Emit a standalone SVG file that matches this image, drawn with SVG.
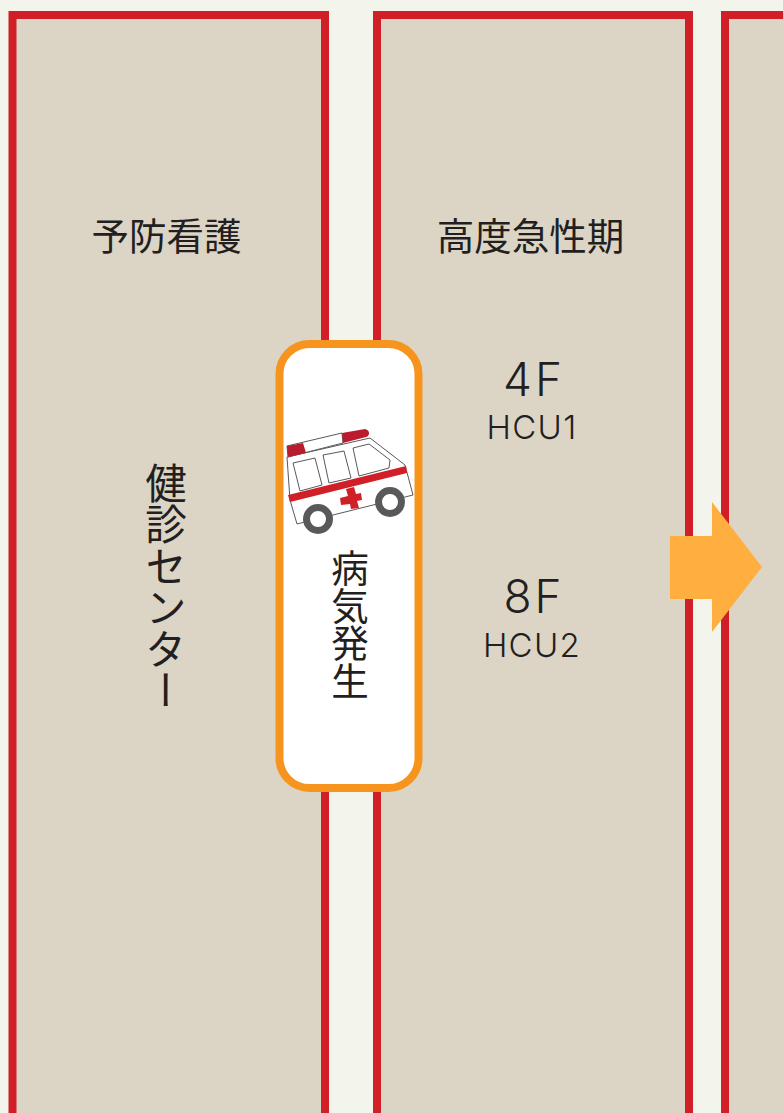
<svg xmlns="http://www.w3.org/2000/svg" width="783" height="1113" viewBox="0 0 783 1113">
<style>
.panel{fill:#dcd5c6;stroke:#d01f27;stroke-width:8}
.t{font-family:"Noto Sans CJK JP",sans-serif;fill:#231f20;font-size:37.500px;text-anchor:middle}
.v{writing-mode:vertical-rl;font-family:"Noto Sans CJK JP",sans-serif;fill:#231f20;text-anchor:start}
.l{font-family:Inter,"Noto Sans",sans-serif;font-weight:300;fill:#231f20;text-anchor:middle}
.b{font-size:46px;letter-spacing:3px}.s{font-size:33px;letter-spacing:1.300px}
.line{fill:none;stroke:#58595b;stroke-width:1}
.red{fill:#b81c2e}
.wheel{fill:#fff;stroke:#58595b;stroke-width:7}
</style>
<rect width="783" height="1113" fill="#f3f4ec"/>
<g id="panel-prevention">
<rect class="panel" x="12.500" y="15" width="312.500" height="1110"/>
<text class="t" x="166.500" y="250">予防看護</text>
<text class="v" x="166" y="462" font-size="41.500">健診センター</text>
</g>
<g id="panel-acute">
<rect class="panel" x="377" y="15" width="312" height="1110"/>
<text class="t" x="530.500" y="250">高度急性期</text>
<text class="l b" x="534" y="396">4F</text>
<text class="l s" x="532" y="439">HCU1</text>
<text class="l b" x="534" y="613">8F</text>
<text class="l s" x="532" y="657">HCU2</text>
</g>
<g id="panel-next">
<rect class="panel" x="725" y="15" width="312" height="1110"/>
</g>
<g id="onset">
<rect x="279.500" y="344" width="139" height="444" rx="30" fill="#fff" stroke="#f7941d" stroke-width="8"/>
<g id="ambulance">
<path d="M287 457L290 500L297 524L413 495L405 465L370 438L287 457Z" fill="#fff" stroke="#58595b" stroke-width="1"/>
<path d="M287 446L342 433L343 443L288 457Z" fill="#fff" stroke="#58595b" stroke-width="1"/>
<path class="red" d="M287 446L303 443L306 453L288 457Z"/>
<path class="red" d="M342 433L365 429Q369 430 369 433Q369 436 366 437L343 443Z"/>
<path class="line" d="M293 463L315 458L322 485L300 491Z"/>
<path class="line" d="M323 455L344 451L351 478L329 483Z"/>
<path class="line" d="M353 448L369 444L390 460L389 468L359 476Z"/>
<path fill="#d01f27" d="M288 495L406 466L407 473L290 502Z"/>
<path fill="#d01f27" d="M346 489L354 487L356 494L361 493L362 500L357 501L359 508L351 509L350 504L341 505L340 498L348 496Z"/>
<circle class="wheel" cx="318" cy="519" r="11.500"/>
<circle class="wheel" cx="390" cy="502" r="11.500"/>
</g>
<text class="v" x="350" y="549" font-size="37.500">病気発生</text>
</g>
<g id="connectors">
<path d="M670 536H712V502L762 567L712 632V599H670Z" fill="#ffae40"/>
</g>
</svg>
